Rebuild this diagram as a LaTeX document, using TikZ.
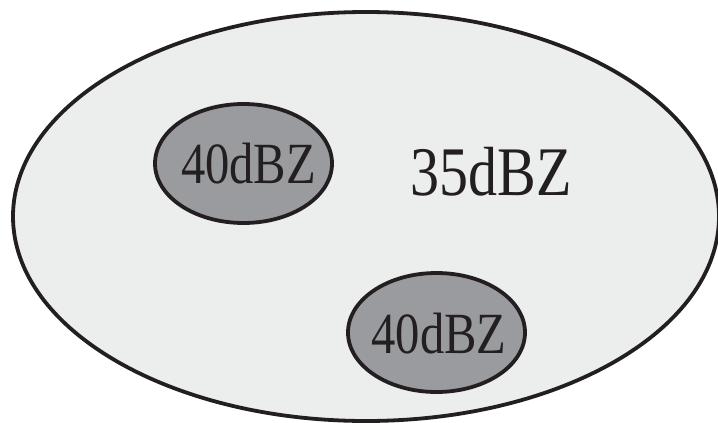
\documentclass[tikz,border=0pt]{standalone}
\usepackage{fontspec}
\setmainfont{Liberation Serif}
\usetikzlibrary{shapes.geometric}
\definecolor{outerfill}{HTML}{ECEEED}
\definecolor{innerfill}{HTML}{9A9B9F}
\definecolor{edge}{HTML}{231F20}
\newcommand{\talltxt}[1]{\scalebox{1}[1.2]{#1}}
\begin{document}
\begin{tikzpicture}[x=1pt,y=-1pt,
  bigell/.style={ellipse,draw=edge,fill=outerfill,line width=3.8pt,inner sep=0pt,minimum width=706pt,minimum height=409pt},
  smallell/.style={ellipse,draw=edge,fill=innerfill,line width=3.8pt,inner sep=0pt,minimum width=177pt,minimum height=119pt},
  smalltxt/.style={anchor=base,inner sep=0pt,text=edge,font=\fontsize{48.6}{50}\selectfont},
  bigtxt/.style={anchor=base,inner sep=0pt,text=edge,font=\fontsize{58}{60}\selectfont}]
\useasboundingbox (0,0) rectangle (718,423);
\fill[white] (0,0) rectangle (718,423);
\node[bigell] (outer) at (366,216.5) {};
\node[smallell] (cellA) at (243.5,163.5) {};
\node[smallell] (cellB) at (436.5,332.5) {};
\node[smalltxt] (tA) at (248.5,183) {\talltxt{40dBZ}};
\node[smalltxt] (tB) at (439,353) {\talltxt{40dBZ}};
\node[bigtxt] (tO) at (491.5,195) {\talltxt{35dBZ}};
\end{tikzpicture}
\end{document}
